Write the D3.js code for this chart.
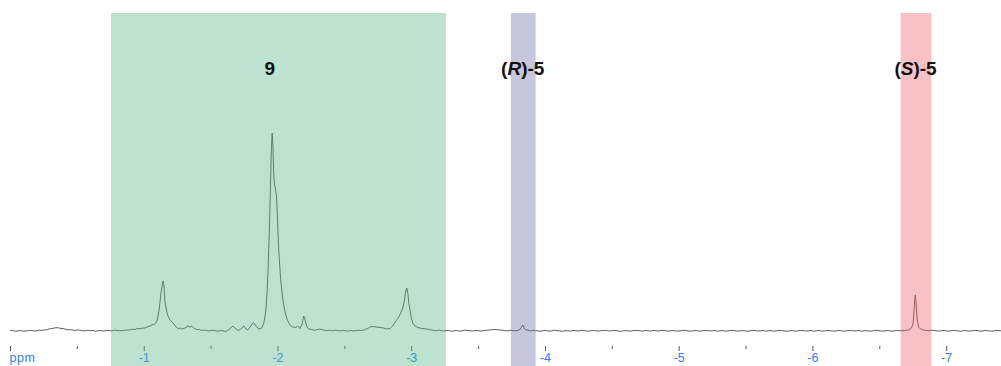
<!DOCTYPE html>
<html>
<head>
<meta charset="utf-8">
<script src="https://cdn.jsdelivr.net/npm/d3@7"></script>
<style>
  html, body { margin: 0; padding: 0; background: #fff; }
  svg { display: block; }
</style>
</head>
<body>
<svg id="chart" width="1001" height="366"></svg>
<script>
// Chemical-shift window (ppm), shown high-to-low from left to right
const ppmDomain = [0, -7.41];

// Integer ppm tick labels and half-ppm minor ticks
const tickValues = [0, -0.5, -1, -1.5, -2, -2.5, -3, -3.5, -4, -4.5, -5, -5.5, -6, -6.5, -7];
const tickLabels = ["ppm", "", "-1", "", "-2", "", "-3", "", "-4", "", "-5", "", "-6", "", "-7"];

// Highlighted integration regions (ppm start, ppm end) and their labels
const bandNames  = ["9", "(R)-5", "(S)-5"];
const bandStart  = [-0.755, -3.745, -6.66];
const bandEnd    = [-3.26, -3.93, -6.89];
const bandLabelAt = [-1.943, -3.834, -6.771];
const bandColors = ["rgb(90,182,137)", "rgb(112,112,167)", "rgb(235,100,110)"];

// Spectrum trace: [ppm, intensity]
const spectrum = [
  [0.000, 0.2], [-0.020, 0.6], [-0.040, -0.3], [-0.060, 0.2], [-0.080, 0.3], [-0.100, -0.2],
  [-0.120, 0.0], [-0.140, 0.6], [-0.160, 0.5], [-0.180, 0.0], [-0.200, 0.2], [-0.220, 0.8],
  [-0.240, 0.6], [-0.260, 1.0], [-0.280, 1.5], [-0.300, 2.3], [-0.320, 2.6], [-0.340, 3.3],
  [-0.360, 3.2], [-0.380, 2.6], [-0.400, 2.4], [-0.420, 1.5], [-0.440, 1.2], [-0.460, 1.3],
  [-0.480, 0.6], [-0.500, 1.0], [-0.520, 0.9], [-0.540, 0.3], [-0.560, 0.1], [-0.580, 0.7],
  [-0.600, 0.3], [-0.620, 0.5], [-0.640, -0.2], [-0.660, 0.3], [-0.680, 0.4], [-0.700, 0.0],
  [-0.720, 0.6], [-0.740, 0.4], [-0.760, 0.2], [-0.780, 0.8], [-0.800, 0.5], [-0.820, 0.4],
  [-0.840, 0.3], [-0.870, 0.9],
  [-0.897, 1.0], [-0.915, 1.8], [-0.934, 1.5], [-0.952, 2.4], [-0.972, 2.3], [-0.990, 2.8],
  [-1.009, 3.0], [-1.028, 4.2], [-1.046, 5.0], [-1.069, 6.5],
  [-1.084, 7.0], [-1.099, 10], [-1.114, 20], [-1.129, 38], [-1.144, 50], [-1.151, 46],
  [-1.158, 30], [-1.170, 21], [-1.181, 15], [-1.196, 11], [-1.211, 9], [-1.226, 7],
  [-1.241, 4], [-1.256, 2.5], [-1.271, 3], [-1.286, 2], [-1.308, 3], [-1.330, 5],
  [-1.345, 4], [-1.360, 5], [-1.383, 2], [-1.405, 1.5], [-1.420, 1.2], [-1.435, 0.5],
  [-1.450, 0.9], [-1.465, 0.8], [-1.480, 0.2], [-1.495, 0.0], [-1.510, 0.7], [-1.525, 0.5],
  [-1.540, 0.1], [-1.555, -0.3], [-1.570, 0.3], [-1.585, 0.4], [-1.600, -0.1], [-1.614, -0.5],
  [-1.625, 0.3], [-1.637, 1.5],
  [-1.667, 5], [-1.689, 2], [-1.711, 0.5], [-1.734, 3], [-1.749, 5], [-1.764, 2],
  [-1.779, 1], [-1.801, 5], [-1.820, 8.5], [-1.839, 5], [-1.861, 2], [-1.883, 3],
  [-1.898, 8], [-1.913, 20], [-1.923, 40], [-1.932, 70], [-1.939, 100], [-1.947, 140],
  [-1.954, 180], [-1.960, 198], [-1.966, 185], [-1.971, 160], [-1.977, 146], [-1.984, 143],
  [-1.992, 136], [-1.998, 120], [-2.003, 100], [-2.010, 80], [-2.018, 63], [-2.025, 50],
  [-2.033, 40], [-2.044, 28], [-2.055, 20], [-2.066, 14], [-2.078, 10], [-2.093, 6],
  [-2.115, 4], [-2.137, 3.5], [-2.152, 5], [-2.167, 2.5], [-2.182, 6], [-2.197, 15],
  [-2.208, 10], [-2.220, 4], [-2.235, 2], [-2.257, 1.5], [-2.272, 0.7], [-2.287, 1],
  [-2.302, 1.6], [-2.317, 2], [-2.332, 1.4], [-2.347, 1], [-2.362, 0.3], [-2.377, 0.5],
  [-2.392, 0.9], [-2.407, 0.2], [-2.421, 0.4], [-2.436, 0.8], [-2.451, 0.3], [-2.466, 0.0],
  [-2.481, 0.4], [-2.496, 0.6], [-2.511, 0.1], [-2.526, -0.2], [-2.541, 0.3], [-2.556, 0.5],
  [-2.571, 0.0], [-2.586, 0.3], [-2.601, 0.7], [-2.616, 0.5], [-2.631, 0.6], [-2.646, 1],
  [-2.660, 1.8], [-2.675, 2.5],
  [-2.690, 4], [-2.713, 4.5], [-2.735, 4], [-2.765, 3.5], [-2.795, 3], [-2.818, 2],
  [-2.840, 2.5], [-2.862, 5], [-2.885, 10], [-2.907, 14], [-2.922, 18], [-2.937, 23],
  [-2.949, 30], [-2.956, 38], [-2.967, 43], [-2.975, 38], [-2.982, 28], [-2.990, 22],
  [-3.001, 13], [-3.012, 8], [-3.027, 5], [-3.049, 3.5], [-3.079, 2.5], [-3.117, 2],
  [-3.135, 1.4], [-3.154, 1], [-3.172, 0.4], [-3.191, 0.5], [-3.210, 0.9], [-3.229, 0.3],
  [-3.245, 0.0], [-3.260, 0.4], [-3.280, 0.6], [-3.300, -0.2], [-3.320, 0.2], [-3.340, 0.5],
  [-3.360, -0.1], [-3.380, 0.1], [-3.400, 0.8], [-3.420, 0.6], [-3.440, 0.2], [-3.460, 0.0],
  [-3.480, 0.6], [-3.500, 0.4], [-3.520, 0.0], [-3.540, 0.3], [-3.560, 0.7], [-3.580, 0.9],
  [-3.600, 1.2], [-3.620, 1.5], [-3.640, 1.3], [-3.660, 1.0], [-3.680, 0.8], [-3.700, 0.4],
  [-3.720, 0.1], [-3.740, 0.6], [-3.760, 0.3], [-3.780, 0.2], [-3.797, 0.5],
  [-3.812, 1.5], [-3.823, 3.5], [-3.834, 6], [-3.845, 3], [-3.857, 1], [-3.871, 0.8],
  [-3.894, 0.0], [-3.910, 0.6], [-3.930, 0.3], [-3.950, 0.1], [-3.970, -0.2], [-3.990, 0.4],
  [-4.010, 0.5], [-4.030, -0.1], [-4.050, 0.1], [-4.070, 0.7], [-4.090, 0.4], [-4.110, 0.1],
  [-4.130, -0.3], [-4.150, 0.2], [-4.170, 0.3], [-4.190, -0.1], [-4.210, 0.6], [-4.230, 0.3],
  [-4.250, 0.0], [-4.270, 0.7], [-4.290, 0.4], [-4.310, 0.1], [-4.330, -0.2], [-4.350, 0.4],
  [-4.370, 0.5], [-4.390, -0.1], [-4.410, 0.2], [-4.430, 0.4], [-4.450, 0.7], [-4.470, 0.2],
  [-4.490, 0.0], [-4.510, 0.6], [-4.530, 0.3], [-4.550, 0.0], [-4.570, -0.3], [-4.590, 0.3],
  [-4.610, 0.4], [-4.630, -0.1], [-4.650, 0.1], [-4.670, 0.6], [-4.690, 0.5], [-4.710, 0.2],
  [-4.730, -0.1], [-4.750, 0.5], [-4.770, 0.3], [-4.790, 0.0], [-4.810, 0.6], [-4.830, 0.2],
  [-4.850, 0.0], [-4.870, 0.7], [-4.890, 0.4], [-4.910, 0.1], [-4.930, -0.2], [-4.950, 0.5],
  [-4.970, 0.3], [-4.990, -0.1], [-5.010, 0.1], [-5.030, 0.6], [-5.050, 0.5], [-5.070, 0.0],
  [-5.090, -0.2], [-5.110, 0.3], [-5.130, 0.4], [-5.150, -0.1], [-5.170, 0.0], [-5.190, 0.5],
  [-5.210, 0.6], [-5.230, 0.1], [-5.250, 0.2], [-5.270, 0.5], [-5.290, -0.3], [-5.310, 0.2],
  [-5.330, 0.4], [-5.350, -0.1], [-5.370, 0.1], [-5.390, 0.6], [-5.410, 0.5], [-5.430, 0.1],
  [-5.450, -0.1], [-5.470, 0.4], [-5.490, 0.3], [-5.510, -0.2], [-5.530, 0.0], [-5.550, 0.5],
  [-5.570, 0.6], [-5.590, 0.0], [-5.610, 0.2], [-5.630, 0.6], [-5.650, -0.2], [-5.670, 0.2],
  [-5.690, 0.4], [-5.710, -0.1], [-5.730, 0.1], [-5.750, 0.6], [-5.770, 0.5], [-5.790, 0.1],
  [-5.810, -0.3], [-5.830, 0.2], [-5.850, 0.3], [-5.870, -0.1], [-5.890, 0.0], [-5.910, 0.6],
  [-5.930, 0.4], [-5.950, 0.0], [-5.970, 0.2], [-5.990, 0.5], [-6.010, -0.2], [-6.030, 0.2],
  [-6.050, 0.5], [-6.070, -0.1], [-6.090, 0.1], [-6.110, 0.6], [-6.130, 0.3], [-6.150, 0.0],
  [-6.170, -0.1], [-6.190, 0.5], [-6.210, 0.4], [-6.230, -0.1], [-6.250, 0.0], [-6.270, 0.4],
  [-6.290, 0.6], [-6.310, 0.1], [-6.330, 0.2], [-6.350, 0.5], [-6.370, -0.2], [-6.390, 0.2],
  [-6.410, 0.3], [-6.430, -0.1], [-6.450, 0.1], [-6.470, 0.6], [-6.490, 0.5], [-6.510, 0.0],
  [-6.530, -0.1], [-6.550, 0.4], [-6.570, 0.3], [-6.590, -0.1], [-6.610, 0.0], [-6.630, 0.6],
  [-6.650, 0.4], [-6.670, 0.2], [-6.689, 0.5], [-6.705, 0.9], [-6.719, 1],
  [-6.741, 3], [-6.753, 8], [-6.760, 20], [-6.766, 33], [-6.770, 36], [-6.775, 28],
  [-6.783, 12], [-6.794, 4], [-6.809, 2], [-6.824, 1.3], [-6.839, 0.8], [-6.855, 0.4],
  [-6.870, 0.3], [-6.890, 0.8], [-6.910, 0.5], [-6.930, 0.1], [-6.950, -0.1], [-6.970, 0.5],
  [-6.990, 0.4], [-7.010, -0.1], [-7.030, 0.0], [-7.050, 0.6], [-7.070, 0.5], [-7.090, 0.0],
  [-7.110, -0.2], [-7.130, 0.4], [-7.150, 0.3], [-7.170, -0.1], [-7.190, 0.1], [-7.210, 0.6],
  [-7.230, 0.5], [-7.250, 0.0], [-7.270, -0.1], [-7.290, 0.5], [-7.310, 0.3], [-7.330, -0.1],
  [-7.350, 0.0], [-7.370, 0.6], [-7.390, 0.4], [-7.420, 0.1]
];

const svg = d3.select("#chart");
const width = 1001, height = 366;

const x = d3.scaleLinear().domain(ppmDomain).range([10, 1001]);
const y = d3.scaleLinear().domain([0, 200]).range([331, 131]);

// Spectrum trace
const line = d3.line()
  .x(d => x(d[0]))
  .y(d => y(d[1]))
  .curve(d3.curveLinear);

svg.append("path")
  .datum(spectrum)
  .attr("fill", "none")
  .attr("stroke", "#4a4a4a")
  .attr("stroke-width", 0.9)
  .attr("stroke-linejoin", "round")
  .attr("d", line);

// Axis: ticks without a baseline rule
const axis = d3.axisBottom(x)
  .tickValues(tickValues)
  .tickSize(0)
  .tickFormat((d, i) => tickLabels[i]);

const gAxis = svg.append("g")
  .attr("transform", "translate(0,346)")
  .call(axis);

gAxis.select(".domain").remove();
gAxis.selectAll(".tick line")
  .attr("y2", (d, i) => tickLabels[i] === "" ? 3 : 5)
  .attr("stroke", "#555")
  .attr("stroke-width", 1);
gAxis.selectAll(".tick text")
  .attr("y", 7)
  .attr("dy", "0.71em")
  .attr("fill", "#2f7cf6")
  .style("font-family", "'Liberation Sans', Arial, sans-serif")
  .style("font-size", "12.5px");
// "ppm" caption sits at the left end, aligned to the origin tick
gAxis.selectAll(".tick text")
  .filter((d, i) => tickLabels[i] === "ppm")
  .attr("text-anchor", "start")
  .attr("x", -1)
  .style("letter-spacing", "0.5px");

// Translucent highlight bands over the trace
svg.selectAll("rect.band")
  .data(bandNames)
  .join("rect")
  .attr("class", "band")
  .attr("x", (d, i) => x(bandStart[i]))
  .attr("width", (d, i) => x(bandEnd[i]) - x(bandStart[i]))
  .attr("y", 13)
  .attr("height", height - 13)
  .attr("fill", (d, i) => bandColors[i])
  .attr("fill-opacity", 0.4);

// Band labels, with the stereodescriptor set in italics
const labels = svg.selectAll("text.band-label")
  .data(bandNames)
  .join("text")
  .attr("class", "band-label")
  .attr("x", (d, i) => x(bandLabelAt[i]))
  .attr("y", 75)
  .attr("text-anchor", "middle")
  .style("font-family", "'Liberation Sans', Arial, sans-serif")
  .style("font-weight", "bold")
  .style("font-size", "19px")
  .attr("fill", "#111");

labels.each(function(d) {
  const t = d3.select(this);
  const m = d.match(/^\((\w)\)(.*)$/);
  if (m) {
    t.append("tspan").text("(");
    t.append("tspan").style("font-style", "italic").text(m[1]);
    t.append("tspan").text(")" + m[2]);
  } else {
    t.text(d);
  }
});
</script>
</body>
</html>
